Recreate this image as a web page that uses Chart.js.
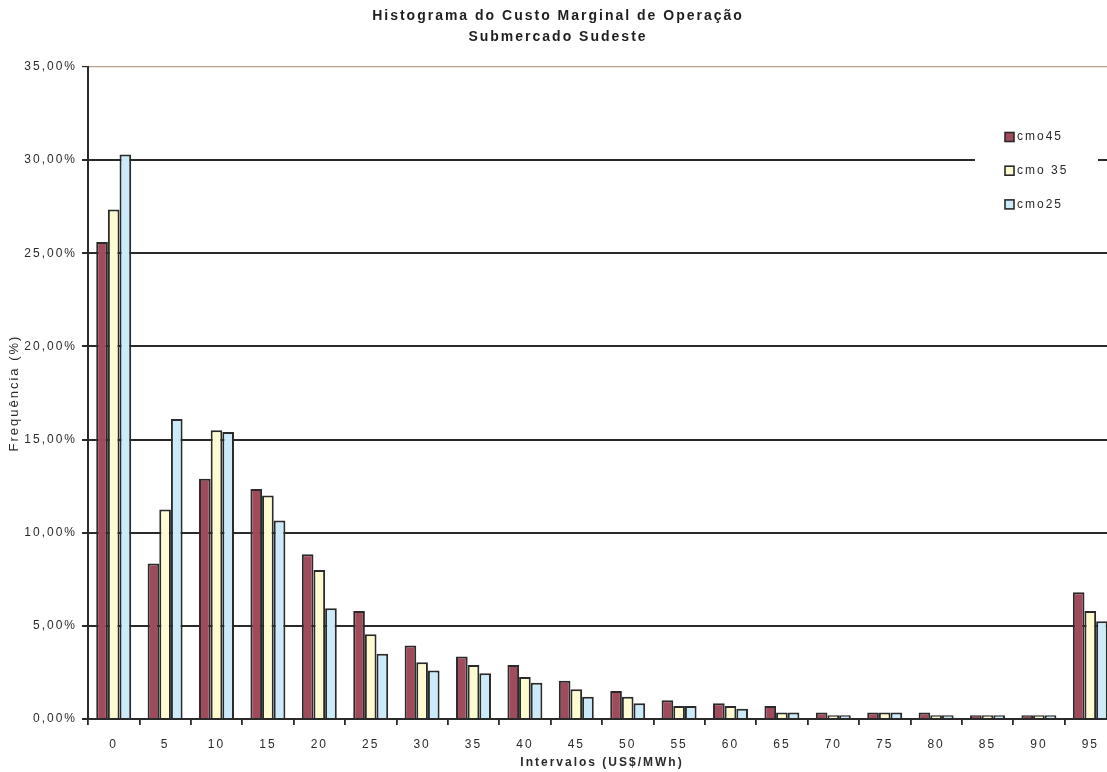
<!DOCTYPE html>
<html lang="pt">
<head>
<meta charset="utf-8">
<title>Histograma do Custo Marginal de Operação</title>
<script src="https://cdn.jsdelivr.net/npm/chart.js@4/dist/chart.umd.min.js"></script>
<style>
  html, body { margin: 0; padding: 0; background: #fff; overflow: hidden; }
  #wrap { position: absolute; left: 0; top: 0; width: 1116px; height: 772px; }
</style>
</head>
<body>
<div id="wrap"><canvas id="chart"></canvas></div>
<script>
// Intervalos de custo (US$/MWh)
const categories = ['0', '5', '10', '15', '20', '25', '30', '35', '40', '45',
                    '50', '55', '60', '65', '70', '75', '80', '85', '90', '95'];

// Nomes das séries
const seriesNames = ['cmo45', 'cmo 35', 'cmo25'];

// Frequência (%) por intervalo
const cmo45 = [25.6, 8.35, 12.9, 12.35, 8.85, 5.8, 3.95, 3.35, 2.9, 2.05,
               1.5, 1.0, 0.85, 0.7, 0.35, 0.35, 0.35, 0.2, 0.2, 6.8];
const cmo35 = [27.35, 11.25, 15.5, 12.0, 8.0, 4.55, 3.05, 2.9, 2.25, 1.6,
               1.2, 0.7, 0.7, 0.35, 0.2, 0.35, 0.2, 0.2, 0.2, 5.8];
const cmo25 = [30.3, 16.1, 15.4, 10.65, 5.95, 3.5, 2.6, 2.45, 1.95, 1.2,
               0.85, 0.7, 0.55, 0.35, 0.2, 0.35, 0.2, 0.2, 0.2, 5.25];

// Escala do eixo Y (%)
const yMin = 0, yMax = 35, yStep = 5;

const FONT = '"Liberation Sans", Arial, sans-serif';
const INK = '#2a2a2a';
const SPACING = '2px';
const seriesColors = ['#A04B5C', '#FFFBD0', '#CBEBFA'];

// Espaçamento entre letras aplicado a todo o texto do gráfico
const spacingPlugin = {
  id: 'letterSpacing',
  beforeLayout(chart) { chart.ctx.letterSpacing = SPACING; },
  beforeDraw(chart) { chart.ctx.letterSpacing = SPACING; }
};

// Legenda em caixa branca dentro da área do gráfico
const boxLegend = {
  id: 'boxLegend',
  afterDraw(chart) {
    const { ctx, chartArea } = chart;
    const left = chartArea.right - 141;
    const top = chartArea.top + 52;
    ctx.save();
    ctx.letterSpacing = SPACING;
    ctx.fillStyle = '#fff';
    ctx.fillRect(left, top, 123, 105);
    ctx.font = '12px ' + FONT;
    ctx.textBaseline = 'middle';
    ctx.textAlign = 'left';
    chart.data.datasets.forEach((ds, i) => {
      const cy = chartArea.top + 70 + i * 33.7;
      const sx = left + 30;
      ctx.fillStyle = ds.backgroundColor;
      ctx.fillRect(sx, cy - 4.5, 9, 9);
      ctx.strokeStyle = INK;
      ctx.lineWidth = 1.6;
      ctx.strokeRect(sx, cy - 4.5, 9, 9);
      ctx.fillStyle = INK;
      ctx.fillText(ds.label, sx + 12, cy);
    });
    ctx.restore();
  }
};

const seriesData = [cmo45, cmo35, cmo25];

new Chart(document.getElementById('chart'), {
  type: 'bar',
  data: {
    labels: categories,
    datasets: seriesNames.map((name, i) => ({
      label: name,
      data: seriesData[i],
      backgroundColor: seriesColors[i],
      borderColor: INK,
      borderWidth: 2,
      categoryPercentage: 0.68,
      barPercentage: 1.0
    }))
  },
  options: {
    responsive: true,
    maintainAspectRatio: false,
    animation: false,
    devicePixelRatio: 1,
    layout: { padding: 0 },
    plugins: {
      legend: { display: false },
      tooltip: { enabled: false },
      title: {
        display: true,
        text: ['Histograma do Custo Marginal de Operação', 'Submercado Sudeste'],
        color: '#1e1e1e',
        font: { family: FONT, size: 14, weight: 'bold', lineHeight: 1.5 },
        padding: { top: 6, bottom: 19 }
      }
    },
    scales: {
      x: {
        afterFit(scale) { scale.height = 53; },
        grid: {
          display: true,
          drawOnChartArea: false,
          drawTicks: true,
          tickLength: 6,
          color: INK,
          lineWidth: 1.8,
          offset: true
        },
        border: { display: true, color: INK, width: 2 },
        ticks: {
          color: INK,
          font: { family: FONT, size: 12 },
          padding: 12,
          maxRotation: 0,
          autoSkip: false
        },
        title: {
          display: true,
          text: 'Intervalos (US$/MWh)',
          color: INK,
          font: { family: FONT, size: 12, weight: 'bold' },
          padding: { top: 6, bottom: 2 }
        }
      },
      y: {
        min: yMin,
        max: yMax,
        afterFit(scale) { scale.width = 88; },
        grid: {
          color: ctx => (ctx.tick && ctx.tick.value === yMax) ? '#B8A08C' : INK,
          lineWidth: ctx => (ctx.tick && ctx.tick.value === yMax) ? 1.2 : 2,
          tickColor: INK,
          tickLength: 6,
          drawTicks: true
        },
        border: { display: true, color: INK, width: 2 },
        ticks: {
          stepSize: yStep,
          color: INK,
          font: { family: FONT, size: 12 },
          padding: 5,
          callback: v => v.toFixed(2).replace('.', ',') + '%'
        },
        title: {
          display: true,
          text: 'Frequência (%)',
          color: INK,
          font: { family: FONT, size: 13 },
          padding: { top: 6.5, bottom: 0 }
        }
      }
    }
  },
  plugins: [spacingPlugin, boxLegend]
});
</script>
</body>
</html>
